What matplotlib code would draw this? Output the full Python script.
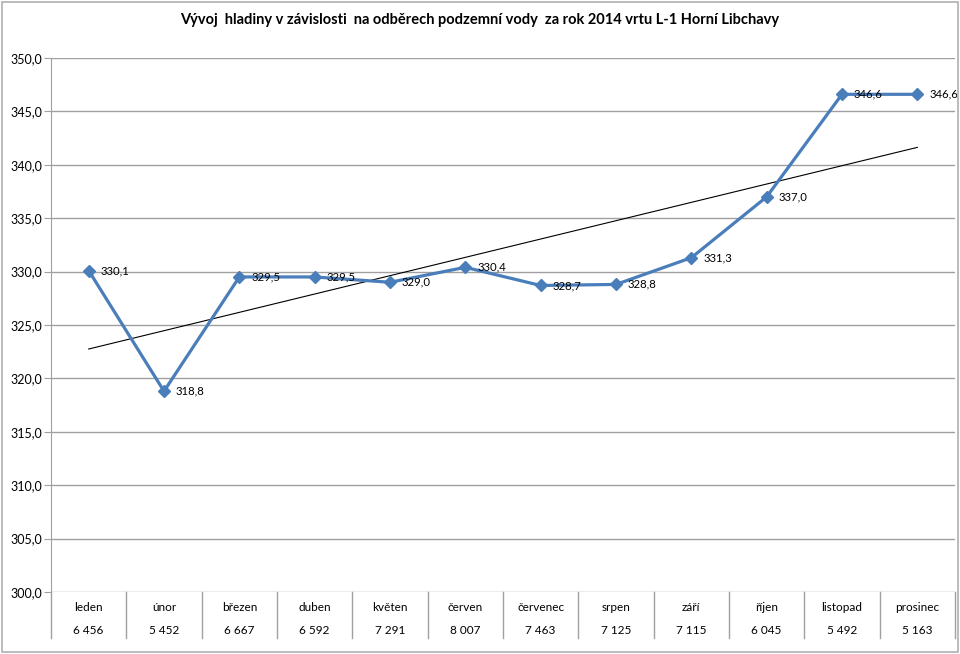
import numpy as np
import matplotlib
matplotlib.use("Agg")
import matplotlib.pyplot as plt
from matplotlib.patches import Rectangle

plt.rcParams['font.family'] = ['Lato', 'DejaVu Sans']

months = ["leden", "únor", "březen", "duben", "květen", "červen", "červenec",
          "srpen", "září", "říjen", "listopad", "prosinec"]
withdrawals = ["6 456", "5 452", "6 667", "6 592", "7 291", "8 007", "7 463",
               "7 125", "7 115", "6 045", "5 492", "5 163"]
levels = [330.1, 318.8, 329.5, 329.5, 329.0, 330.4, 328.7, 328.8, 331.3, 337.0, 346.6, 346.6]
yticks = [300, 305, 310, 315, 320, 325, 330, 335, 340, 345, 350]
title = "Vývoj  hladiny v závislosti  na odběrech podzemní vody  za rok 2014 vrtu L-1 Horní Libchavy"

fig = plt.figure(figsize=(9.6, 6.54), dpi=100)
ax = fig.add_axes([51/960, 1-592/654, 904/960, 534/654])

x = np.arange(1, len(levels)+1)
ax.set_xlim(0.5, len(levels)+0.5)
ax.set_ylim(300, 350)

grid_c = "#a0a0a0"
for yv in yticks:
    ax.axhline(yv, color=grid_c, lw=1.0, zorder=0)

# trend line
p = np.polyfit(x, levels, 1)
ax.plot(x, np.polyval(p, x), color="black", lw=0.8, zorder=2)

ax.plot(x, levels, color="#4A7EBB", lw=2.3, marker="D", markersize=6,
        markerfacecolor="#4A7EBB", markeredgecolor="#4A7EBB", zorder=3)

for xi, v in zip(x, levels):
    ax.annotate(f"{v:.1f}".replace(".", ","), (xi, v), xytext=(8.5, 0),
                textcoords="offset points", ha="left", va="center", fontsize=8.2, zorder=4)

ax.set_yticks(yticks)
ax.set_yticklabels([f"{v:.1f}".replace(".", ",") for v in yticks], fontsize=9)
ax.tick_params(axis="y", length=5, color=grid_c, pad=1.5)
ax.set_xticks([])
for s in ["top", "right", "bottom"]:
    ax.spines[s].set_visible(False)
ax.spines["left"].set_color(grid_c)
ax.spines["left"].set_bounds(300, 350)

# table below axis
trans = ax.get_xaxis_transform()
ax.plot([0.5, 0.5], [0, -0.0861], transform=trans, color=grid_c, lw=1.0, clip_on=False)
for b in np.arange(1.5, len(levels)+1.5, 1.0):
    ax.plot([b, b], [0, -0.0861], transform=trans, color=grid_c, lw=1.0, clip_on=False)
for xi, m, w in zip(x, months, withdrawals):
    ax.text(xi, -0.0281, m, transform=trans, ha="center", va="center", fontsize=8.5)
    ax.text(xi, -0.0712, w, transform=trans, ha="center", va="center", fontsize=8.5)

fig.text(480/960, 1-20/654, title, ha="center", va="center", fontsize=10.5, fontweight="bold")

fig.patches.append(Rectangle((0.002, 0.003), 0.996, 0.994, transform=fig.transFigure,
                             fill=False, edgecolor="#b0b0b0", lw=1.2))

fig.savefig("out.png", dpi=100)
